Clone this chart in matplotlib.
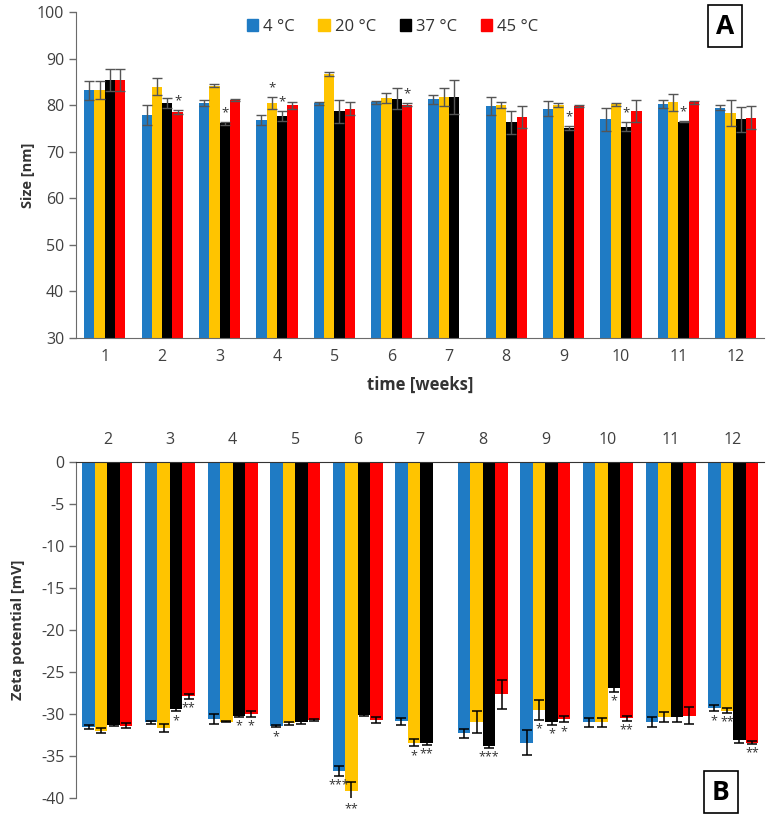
import numpy as np
import matplotlib
matplotlib.use("Agg")
import matplotlib.pyplot as plt
from matplotlib.patches import Patch

plt.rcParams['font.family'] = ['Open Sans', 'DejaVu Sans']
plt.rcParams['axes.unicode_minus'] = False

# series
temps = ['4 °C', '20 °C', '37 °C', '45 °C']
colors = ['#1f7bc4', '#ffc400', '#000000', '#ff0000']

# panel A - particle size [nm]
weeks_a = [1, 2, 3, 4, 5, 6, 7, 8, 9, 10, 11, 12]
size_4 = [83.2, 77.9, 80.5, 76.8, 80.4, 80.6, 81.3, 79.8, 79.3, 77.0, 80.3, 79.5]
size_20 = [83.3, 84.0, 84.2, 80.5, 86.7, 81.6, 81.8, 80.0, 80.1, 80.2, 80.6, 78.4]
size_37 = [85.4, 80.5, 76.1, 77.7, 78.7, 81.4, 81.8, 76.3, 75.1, 75.4, 76.5, 77.0]
size_45 = [85.4, 78.6, 81.1, 80.0, 79.3, 80.1, np.nan, 77.5, 79.9, 78.8, 80.6, 77.3]
size_err_4 = [2.0, 2.1, 0.7, 1.0, 0.35, 0.4, 0.95, 1.9, 1.7, 2.5, 0.9, 0.5]
size_err_20 = [2.0, 1.9, 0.3, 1.2, 0.5, 1.05, 1.9, 0.6, 0.4, 0.35, 1.8, 2.8]
size_err_37 = [2.4, 1.0, 0.35, 1.1, 2.5, 2.25, 3.6, 2.4, 0.5, 1.0, 0.2, 2.7]
size_err_45 = [2.4, 0.4, 0.2, 0.7, 1.4, 0.3, np.nan, 2.3, 0.2, 2.35, 0.35, 2.5]
# (week, series index, mark)
stars_a = [(2, 3, '*'), (3, 2, '*'), (4, 1, '*'), (4, 2, '*'), (6, 3, '*'),
           (9, 2, '*'), (10, 2, '*'), (11, 2, '*')]

# panel B - zeta potential [mV]
weeks_b = [2, 3, 4, 5, 6, 7, 8, 9, 10, 11, 12]
zeta_4 = [-31.5, -31.0, -30.6, -31.45, -36.75, -30.85, -32.3, -33.4, -31.0, -31.0, -29.3]
zeta_20 = [-32.0, -31.7, -30.9, -31.1, -39.2, -33.4, -31.0, -29.5, -31.0, -30.4, -29.6]
zeta_37 = [-31.25, -29.4, -30.2, -31.0, -30.1, -33.5, -33.8, -31.0, -26.9, -30.4, -33.1]
zeta_45 = [-31.4, -27.9, -30.0, -30.7, -30.7, np.nan, -27.65, -30.6, -30.5, -30.2, -33.4]
zeta_err_4 = [0.25, 0.2, 0.6, 0.15, 0.6, 0.4, 0.55, 1.5, 0.5, 0.6, 0.4]
zeta_err_20 = [0.3, 0.5, 0.1, 0.2, 1.05, 0.45, 1.3, 1.2, 0.5, 0.6, 0.3]
zeta_err_37 = [0.15, 0.3, 0.15, 0.15, 0.15, 0.15, 0.2, 0.3, 0.5, 0.5, 0.3]
zeta_err_45 = [0.3, 0.3, 0.3, 0.15, 0.4, np.nan, 1.7, 0.4, 0.3, 1.0, 0.15]
stars_b = [(3, 2, '*'), (3, 3, '**'), (4, 2, '*'), (4, 3, '*'), (5, 0, '*'),
           (6, 0, '***'), (6, 1, '**'), (7, 1, '*'), (7, 2, '**'), (8, 2, '***'),
           (9, 1, '*'), (9, 2, '*'), (9, 3, '*'), (10, 2, '*'), (10, 3, '**'),
           (12, 0, '*'), (12, 1, '**'), (12, 3, '**')]

size_vals = [size_4, size_20, size_37, size_45]
size_errs = [size_err_4, size_err_20, size_err_37, size_err_45]
zeta_vals = [zeta_4, zeta_20, zeta_37, zeta_45]
zeta_errs = [zeta_err_4, zeta_err_20, zeta_err_37, zeta_err_45]

tick_col = '#404040'
spine_col = '#6b6b6b'

fig = plt.figure(figsize=(7.69, 8.16), dpi=100)

# ---------- panel A ----------
axA = fig.add_axes([0.099, 0.586, 0.895, 0.399])
wA = 0.18
xA = np.array(weeks_a, dtype=float)
for i in range(4):
    axA.bar(xA + (i - 1.5) * wA, size_vals[i], width=wA, bottom=0, color=colors[i],
            yerr=size_errs[i], ecolor='#555555', capsize=3.5, error_kw=dict(elinewidth=1.0, capthick=1.0),
            label=temps[i])
for wk, s, txt in stars_a:
    k = weeks_a.index(wk)
    y = size_vals[s][k] + size_errs[s][k] + 0.6
    axA.text(wk + (s - 1.5) * wA, y, txt, ha='center', va='bottom', fontsize=9.5, color='#333333')

axA.set_ylim(30, 100)
axA.set_xlim(0.5, 12.5)
axA.set_yticks(range(30, 101, 10))
axA.set_xticks(weeks_a)
axA.tick_params(axis='x', length=0, labelsize=11.5, colors=tick_col, pad=8)
axA.tick_params(axis='y', length=5, labelsize=11.5, colors=tick_col, width=1, color=spine_col)
for side in ['top', 'right']:
    axA.spines[side].set_visible(False)
for side in ['left', 'bottom']:
    axA.spines[side].set_color(spine_col)
axA.set_ylabel('Size [nm]', fontsize=10.5, fontweight='bold', color='#333333')
axA.yaxis.set_label_coords(-0.06, 0.5)
axA.set_xlabel('time [weeks]', fontsize=12, fontweight='bold', color='#333333', labelpad=8)

handles = [Patch(color=c, label=t) for c, t in zip(colors, temps)]
axA.legend(handles=handles, loc='upper center', bbox_to_anchor=(0.46, 1.025), ncol=4, frameon=False,
           fontsize=12, handlelength=0.7, handleheight=0.7, handletextpad=0.3, columnspacing=1.4,
           labelcolor='#333333')

fig.text(725 / 769, 1 - 26 / 816, 'A', fontsize=19, fontweight='bold', ha='center', va='center',
         bbox=dict(boxstyle='square,pad=0.3', facecolor='white', edgecolor='black', linewidth=1.2))

# ---------- panel B ----------
axB = fig.add_axes([0.099, 0.022, 0.895, 0.412])
wB = 0.2
xB = np.array(weeks_b, dtype=float)
for i in range(4):
    axB.bar(xB + (i - 1.5) * wB, zeta_vals[i], width=wB, color=colors[i],
            yerr=zeta_errs[i], ecolor='black', capsize=3.5, error_kw=dict(elinewidth=1.1, capthick=1.1))
for wk, s, txt in stars_b:
    k = weeks_b.index(wk)
    y = zeta_vals[s][k] - zeta_errs[s][k] - 1.5
    axB.text(wk + (s - 1.5) * wB, y, txt, ha='center', va='baseline', fontsize=9, color='#333333',
             clip_on=False)

axB.set_ylim(-40, 0)
axB.set_xlim(1.5, 12.5)
axB.set_yticks(range(-40, 1, 5))
axB.set_xticks(weeks_b)
axB.xaxis.tick_top()
axB.tick_params(axis='x', length=0, labelsize=11.5, colors=tick_col, pad=10)
axB.tick_params(axis='y', length=5, labelsize=11.5, colors=tick_col, width=1, color=spine_col)
for side in ['bottom', 'right']:
    axB.spines[side].set_visible(False)
axB.spines['left'].set_color(spine_col)
axB.spines['top'].set_color('#333333')
axB.set_ylabel('Zeta potential [mV]', fontsize=10.5, fontweight='bold', color='#333333')
axB.yaxis.set_label_coords(-0.075, 0.5)

fig.text(721 / 769, 1 - 792 / 816, 'B', fontsize=19, fontweight='bold', ha='center', va='center',
         bbox=dict(boxstyle='square,pad=0.3', facecolor='white', edgecolor='black', linewidth=1.2))

fig.savefig('out.png', dpi=100)
